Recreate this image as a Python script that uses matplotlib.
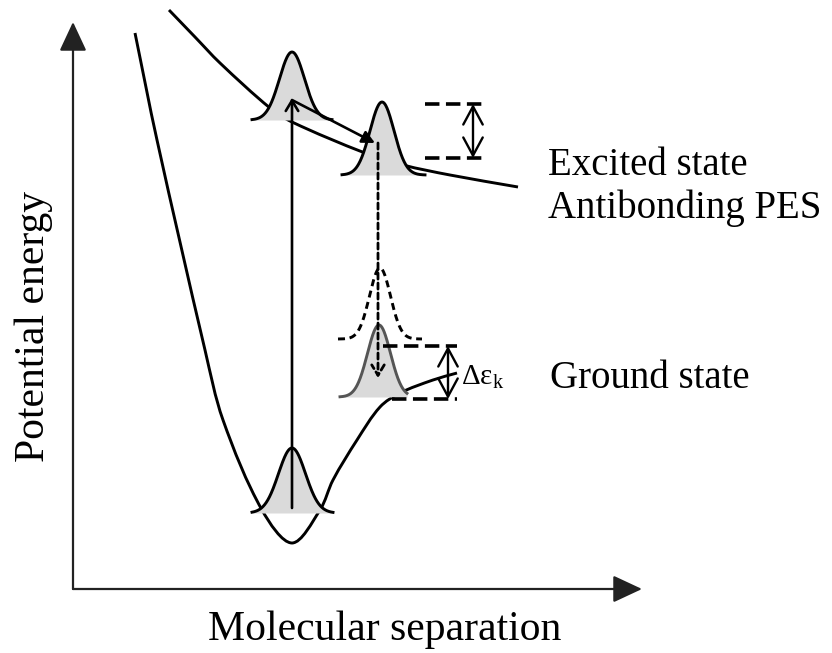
import numpy as np
import matplotlib
matplotlib.use("Agg")
import matplotlib.pyplot as plt
from matplotlib.path import Path
from matplotlib.patches import PathPatch

plt.rcParams["font.family"] = ["Liberation Serif", "DejaVu Serif"]
plt.rcParams["mathtext.fontset"] = "custom"
plt.rcParams["mathtext.rm"] = "Liberation Serif"

# potential energy surfaces, sampled along the drawn curves (separation, energy)
GROUND_R = [62, 84, 132, 150, 189, 219, 247, 260, 284, 307, 327, 360, 384]
GROUND_E = [556, 449, 239, 169, 79, 46, 79, 109, 149, 182, 196, 209, 216]
EXCITED_R = [96, 122, 147, 197, 219, 292, 330, 377, 445]
EXCITED_E = [579, 552, 526, 481, 467, 436, 424, 414, 402]

# wave packets: centre, baseline, peak height, width, left/right reach
PACKET_R = [219, 309, 219, 306]
PACKET_BASE = [469, 414, 76, 192]
PACKET_HEIGHT = [68, 73, 65, 72]
PACKET_SIGMA = [12.5, 12, 13.5, 11.5]
PACKET_LEFT = [40, 40, 40, 39]
PACKET_RIGHT = [40, 43, 41, 28]
PACKET_EDGE = ["black", "black", "black", "#555555"]

# relaxed packet before it drops to the ground surface
GHOST_R = 307
GHOST_BASE = 250
GHOST_HEIGHT = 71
GHOST_SIGMA = 10.5
GHOST_REACH = 42

# transitions
EXCITE_R, EXCITE_FROM, EXCITE_TO = 219, 81, 491
SLIDE_FROM, SLIDE_TO = (219, 489), (302, 446)
DROP_R, DROP_FROM, DROP_TO = 305, 446, 211

# energy spreads: arrow x, level energies, level left ends, common right end
SPREAD_X = [400, 375]
SPREAD_LEVELS = [(485, 431), (243, 190)]
SPREAD_LEFT = [(352, 352), (310, 319)]
SPREAD_RIGHT = [414, 384]

FILL = "#dadada"
LW = 2.1


def smooth_path(xs, ys):
    # cubic Bezier through the points, chord-length tangents
    p = np.column_stack([xs, ys]).astype(float)
    t = np.concatenate([[0], np.cumsum(np.hypot(*np.diff(p, axis=0).T))])
    n = len(p)
    tang = np.zeros_like(p)
    for i in range(n):
        a, b = max(i - 1, 0), min(i + 1, n - 1)
        tang[i] = (p[b] - p[a]) / (t[b] - t[a])
    verts, codes = [p[0]], [Path.MOVETO]
    for i in range(n - 1):
        dt = t[i + 1] - t[i]
        verts += [p[i] + tang[i] * dt / 3, p[i + 1] - tang[i + 1] * dt / 3, p[i + 1]]
        codes += [Path.CURVE4] * 3
    return Path(verts, codes)


def packet(ax, c, base, h, s, left, right, edge="black", filled=True, ls="-"):
    r = np.linspace(c - left, c + right, 200)
    e = base + h * np.exp(-0.5 * ((r - c) / s) ** 2)
    if filled:
        ax.fill_between(r, base, e, color=FILL, lw=0, zorder=2)
    ax.plot(r, e, color=edge, lw=LW, ls=ls, zorder=3)


def arrow(ax, start, end, style, lw=1.6, ls="-", scale=15, color="black"):
    ax.annotate("", xy=end, xytext=start,
                arrowprops=dict(arrowstyle=style, lw=lw, ls=ls, color=color,
                                shrinkA=0, shrinkB=0, mutation_scale=scale),
                zorder=4)


fig = plt.figure(figsize=(8.32, 6.53), dpi=100)
ax = fig.add_axes([0, 0, 1, 1])
ax.set_xlim(-73, 759)
ax.set_ylim(-64, 589)
ax.axis("off")

# axes with arrow heads
head = "-|>,head_length=0.9,head_width=0.42"
arrow(ax, (0, 0), (0, 567), head, lw=1.6, scale=20, color="#222222")
arrow(ax, (0, 0), (569, 0), head, lw=1.6, scale=20, color="#222222")

# surfaces
for xs, ys in [(GROUND_R, GROUND_E), (EXCITED_R, EXCITED_E)]:
    ax.add_patch(PathPatch(smooth_path(xs, ys), fill=False, lw=LW,
                           edgecolor="black", zorder=1))

# wave packets
for c, b, h, s, lft, rgt, edge in zip(PACKET_R, PACKET_BASE, PACKET_HEIGHT,
                                       PACKET_SIGMA, PACKET_LEFT, PACKET_RIGHT,
                                       PACKET_EDGE):
    packet(ax, c, b, h, s, lft, rgt, edge=edge)
packet(ax, GHOST_R, GHOST_BASE, GHOST_HEIGHT, GHOST_SIGMA, GHOST_REACH,
       GHOST_REACH, filled=False, ls=(0, (2.4, 1.6)))

# vertical excitation, slide down the excited surface, relaxation drop
arrow(ax, (EXCITE_R, EXCITE_FROM), (EXCITE_R, EXCITE_TO),
      "->,head_length=0.5,head_width=0.3", lw=1.9)
arrow(ax, SLIDE_FROM, SLIDE_TO, "-|>,head_length=0.5,head_width=0.25", lw=1.9)
arrow(ax, (DROP_R, DROP_FROM), (DROP_R, DROP_TO),
      "->,head_length=0.5,head_width=0.3", lw=2.0, ls=(0, (2.2, 1.4)))

# energy spreads
for x, (top, bot), (l_top, l_bot), rgt in zip(SPREAD_X, SPREAD_LEVELS,
                                              SPREAD_LEFT, SPREAD_RIGHT):
    for lvl, lft in [(top, l_top), (bot, l_bot)]:
        ax.plot([lft, rgt], [lvl, lvl], color="black", lw=2.6,
                ls=(0, (4, 1.8)), zorder=4)
    arrow(ax, (x, bot), (x, top), "<->,head_length=0.65,head_width=0.35",
          lw=1.7, scale=20)

# labels
ax.text(475, 414, "Excited state", fontsize=28, va="baseline")
ax.text(475, 371, "Antibonding PES", fontsize=28, va="baseline")
ax.text(477, 201, "Ground state", fontsize=28, va="baseline")
ax.text(388, 204, r"$\mathrm{\Delta\varepsilon_k}$", fontsize=21, va="baseline")
ax.text(312, -51, "Molecular separation", fontsize=30, ha="center", va="baseline")
ax.text(-39, 263, "Potential energy", fontsize=30, rotation=90,
        ha="center", va="center")

fig.savefig("out.png", dpi=100, facecolor="white")
